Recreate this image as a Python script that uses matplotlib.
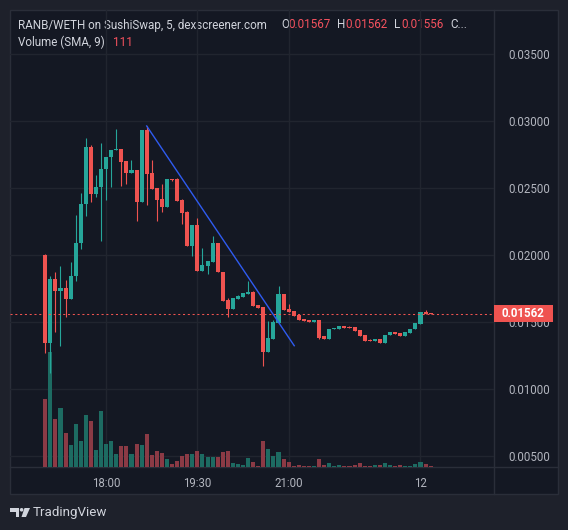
import matplotlib
matplotlib.use("Agg")
import matplotlib.pyplot as plt
from matplotlib.patches import Rectangle, Polygon, Circle
from matplotlib.ticker import FormatStrFormatter

# 5-minute candles
opens = [0.02000, 0.01341, 0.01821, 0.01734, 0.01754, 0.01674, 0.01843, 0.02090, 0.02381, 0.02806,
         0.02457, 0.02507, 0.02642, 0.02731, 0.02784, 0.02791, 0.02701, 0.02612, 0.02634, 0.02398,
         0.02933, 0.02612, 0.02500, 0.02418, 0.02360, 0.02567, 0.02567, 0.02410, 0.02321, 0.02069,
         0.02224, 0.01883, 0.01920, 0.01950, 0.02090, 0.01875, 0.01664, 0.01599, 0.01674, 0.01689,
         0.01711, 0.01724, 0.01627, 0.01612, 0.01278, 0.01373, 0.01493, 0.01709, 0.01597, 0.01582,
         0.01552, 0.01522, 0.01515, 0.01500, 0.01515, 0.01396, 0.01373, 0.01448, 0.01448, 0.01470,
         0.01463, 0.01463, 0.01440, 0.01403, 0.01366, 0.01358, 0.01373, 0.01343, 0.01403, 0.01425,
         0.01418, 0.01396, 0.01418, 0.01448, 0.01485, 0.01575, 0.01567]
highs = [0.02010, 0.01843, 0.01873, 0.01918, 0.01813, 0.01948, 0.02299, 0.02463, 0.02873, 0.02821,
         0.02597, 0.02836, 0.02731, 0.02784, 0.02940, 0.02791, 0.02701, 0.02709, 0.02634, 0.02933,
         0.02963, 0.02709, 0.02500, 0.02530, 0.02567, 0.02567, 0.02575, 0.02418, 0.02328, 0.02224,
         0.02276, 0.02052, 0.01955, 0.02142, 0.02090, 0.01875, 0.01679, 0.01679, 0.01701, 0.01716,
         0.01806, 0.01731, 0.01627, 0.01612, 0.01507, 0.01515, 0.01769, 0.01709, 0.01634, 0.01582,
         0.01552, 0.01522, 0.01515, 0.01515, 0.01515, 0.01396, 0.01448, 0.01455, 0.01470, 0.01470,
         0.01470, 0.01463, 0.01440, 0.01403, 0.01373, 0.01373, 0.01373, 0.01403, 0.01425, 0.01425,
         0.01418, 0.01425, 0.01448, 0.01493, 0.01575, 0.01590, 0.01567]
lows = [0.01266, 0.01122, 0.01428, 0.01323, 0.01540, 0.01674, 0.01808, 0.02047, 0.02293, 0.02398,
        0.02435, 0.02107, 0.02413, 0.02510, 0.02784, 0.02517, 0.02532, 0.02612, 0.02256, 0.02398,
        0.02375, 0.02495, 0.02256, 0.02323, 0.02360, 0.02552, 0.02405, 0.02234, 0.02069, 0.01995,
        0.01883, 0.01883, 0.01860, 0.01950, 0.01875, 0.01659, 0.01540, 0.01599, 0.01674, 0.01689,
        0.01711, 0.01619, 0.01607, 0.01172, 0.01278, 0.01373, 0.01493, 0.01590, 0.01575, 0.01545,
        0.01515, 0.01507, 0.01500, 0.01500, 0.01376, 0.01373, 0.01373, 0.01448, 0.01448, 0.01455,
        0.01455, 0.01433, 0.01396, 0.01358, 0.01358, 0.01358, 0.01343, 0.01343, 0.01403, 0.01410,
        0.01396, 0.01396, 0.01418, 0.01448, 0.01485, 0.01557, 0.01556]
closes = [0.01341, 0.01821, 0.01734, 0.01754, 0.01674, 0.01843, 0.02090, 0.02381, 0.02806, 0.02457,
          0.02507, 0.02642, 0.02731, 0.02784, 0.02791, 0.02694, 0.02612, 0.02634, 0.02398, 0.02933,
          0.02607, 0.02495, 0.02413, 0.02360, 0.02567, 0.02557, 0.02405, 0.02316, 0.02069, 0.02224,
          0.01883, 0.01925, 0.01955, 0.02090, 0.01875, 0.01659, 0.01599, 0.01679, 0.01694, 0.01716,
          0.01724, 0.01619, 0.01607, 0.01278, 0.01381, 0.01500, 0.01709, 0.01590, 0.01575, 0.01545,
          0.01515, 0.01507, 0.01500, 0.01515, 0.01383, 0.01373, 0.01448, 0.01455, 0.01470, 0.01455,
          0.01455, 0.01433, 0.01396, 0.01358, 0.01358, 0.01373, 0.01343, 0.01403, 0.01425, 0.01410,
          0.01396, 0.01425, 0.01448, 0.01493, 0.01575, 0.01557, 0.01562]
volumes = [3260, 5500, 2300, 2830, 1630, 1060, 2060, 1250, 2500, 2210,
           820, 2690, 1100, 1250, 620, 1010, 1010, 620, 1100, 1060,
           1580, 580, 770, 670, 380, 140, 290, 530, 620, 620,
           770, 620, 480, 480, 480, 720, 770, 190, 140, 100,
           430, 240, 50, 1250, 860, 530, 720, 380, 240, 70,
           100, 70, 70, 70, 380, 100, 190, 70, 100, 70,
           70, 100, 190, 70, 70, 100, 100, 190, 100, 70,
           100, 70, 70, 140, 240, 140, 70]

time_ticks = [12, 30, 48, 74]
time_labels = ["18:00", "19:30", "21:00", "12"]
price_ticks = [0.005, 0.010, 0.015, 0.020, 0.025, 0.030, 0.035]
trend_x = [20, 49.1]
trend_y = [0.02963, 0.01323]
last_price = 0.01562

OUTER = "#1e212b"
PANEL = "#141823"
BORDER = "#2a2e39"
GRID = "#21252f"
TXT = "#b2b5be"
UP = "#26a69a"
DOWN = "#ef5350"
VUP = "#1d6b62"
VDOWN = "#8b3a45"
plt.rcParams["font.family"] = ["Roboto", "DejaVu Sans"]

W, H = 568, 530
fig = plt.figure(figsize=(W / 100, H / 100), dpi=100, facecolor=OUTER)


def box(x0, y0, x1, y1):
    return [x0 / W, 1 - y1 / H, (x1 - x0) / W, (y1 - y0) / H]


# background panel, borders, header, logo
deco = fig.add_axes([0, 0, 1, 1], zorder=0)
deco.set_xlim(0, W)
deco.set_ylim(H, 0)
deco.axis("off")
deco.add_patch(Rectangle((10, 10), 548, 484, facecolor=PANEL, edgecolor=BORDER, lw=1))
deco.plot([494, 494], [10, 494], color=BORDER, lw=1)
deco.plot([10, 558], [467, 467], color=BORDER, lw=1)

hdr = dict(fontsize=8.4, va="center", ha="left")
deco.text(18, 25, "RANB/WETH on SushiSwap, 5, dexscreener.com", color="#d1d4dc", **hdr)
for x, s, c in [(281, "O", "#d1d4dc"), (288, "0.01567", "#f7525f"),
                (337, "H", "#d1d4dc"), (345, "0.01562", "#f7525f"),
                (394, "L", "#d1d4dc"), (401, "0.01556", "#f7525f"),
                (450, "C...", "#d1d4dc")]:
    deco.text(x, 25, s, color=c, **hdr)
deco.text(18, 42, "Volume (SMA, 9)", color="#d1d4dc", **hdr)
deco.text(113, 42, "111", color="#f7525f", **hdr)

deco.add_patch(Polygon([(10, 508), (19, 508), (19, 517), (15.5, 517), (15.5, 511.5), (10, 511.5)],
                       closed=True, color="#d1d4dc", lw=0))
deco.add_patch(Circle((21.6, 509.8), 1.8, color="#d1d4dc", lw=0))
deco.add_patch(Polygon([(24.5, 508), (30, 508), (26, 517), (21.5, 517)], closed=True,
                       color="#d1d4dc", lw=0))
deco.text(33, 512.5, "TradingView", color="#d1d4dc", fontsize=9.6, va="center", ha="left")

# price scale, grid, time axis
rect = box(10, 10, 494, 467)
ax = fig.add_axes(rect, zorder=1)
ax.patch.set_visible(False)
ax.set_xlim(-6.96, 88.5)
ax.set_ylim(0.004179, 0.038284)
ax.set_yticks(price_ticks)
ax.yaxis.tick_right()
ax.yaxis.set_major_formatter(FormatStrFormatter("%.5f"))
ax.set_xticks(time_ticks, time_labels)
ax.grid(color=GRID, lw=1)
for s in ax.spines.values():
    s.set_visible(False)
ax.tick_params(length=0, colors=TXT, labelsize=8.3)
ax.tick_params(axis="y", pad=10)
ax.tick_params(axis="x", pad=7)

# volume overlay
idx = list(range(len(closes)))
up = [c >= o for o, c in zip(opens, closes)]
axv = fig.add_axes(rect, zorder=2, sharex=ax)
axv.patch.set_visible(False)
axv.axis("off")
axv.set_ylim(0, max(volumes) * 3.99)
axv.bar(idx, volumes, width=0.8, color=[VUP if u else VDOWN for u in up])

# candles
axc = fig.add_axes(rect, zorder=3, sharex=ax, sharey=ax)
axc.patch.set_visible(False)
axc.axis("off")
cols = [UP if u else DOWN for u in up]
axc.vlines(idx, lows, highs, colors=cols, lw=0.8)
min_body = 0.00008
axc.bar(idx, [max(abs(c - o), min_body) for o, c in zip(opens, closes)],
        bottom=[min(o, c) for o, c in zip(opens, closes)], width=0.8, color=cols)
axc.plot(trend_x, trend_y, color="#2f5bf0", lw=1)
axc.axhline(last_price, color=DOWN, lw=0.75, ls=(0, (2, 2.6)))

tr = axc.get_yaxis_transform()
h = 17 * (0.038284 - 0.004179) / 457
axc.add_patch(Rectangle((1.0, last_price - h / 2), 58.7 / 484, h, transform=tr,
                        facecolor=DOWN, edgecolor="none", clip_on=False, zorder=5))
axc.text(1.0 + 29.3 / 484, last_price, f"{last_price:.5f}", transform=tr, color="white",
         fontsize=8.3, fontweight="bold", ha="center", va="center", clip_on=False, zorder=6)

fig.savefig("out.png", dpi=100, facecolor=OUTER)
